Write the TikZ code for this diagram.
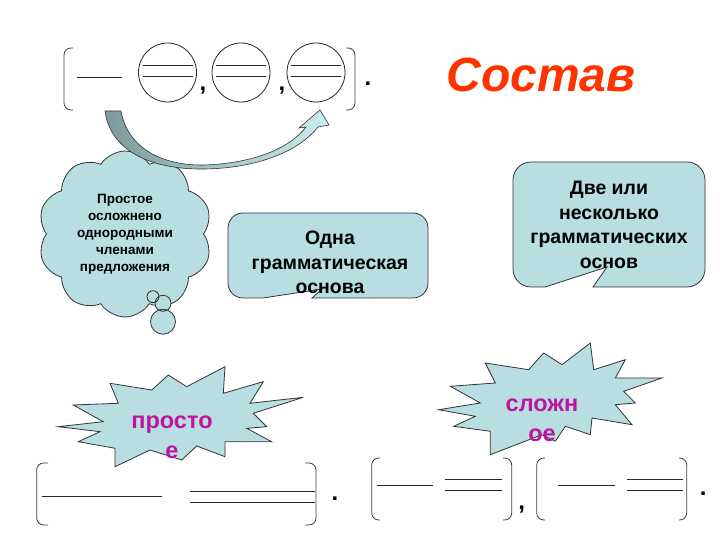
\documentclass[tikz,border=0pt]{standalone}
\usepackage{fontspec}
\setmainfont{Liberation Sans}
\usepackage{tikz}
\usetikzlibrary{shapes.symbols}
\definecolor{paleblue}{RGB}{185,222,226}
\definecolor{titlered}{RGB}{255,51,0}
\definecolor{starpink}{RGB}{190,20,160}
\definecolor{arrowdark}{RGB}{125,155,155}
\definecolor{arrowlight}{RGB}{205,236,236}
\tikzstyle{outline} = [draw=black!80, line width=0.8pt]
\tikzstyle{bubble} = [outline, fill=paleblue]
\tikzstyle{bracket} = [draw=black!75, line width=0.8pt, rounded corners=7pt]
\tikzstyle{stroke} = [draw=black!85, line width=0.8pt]
\tikzstyle{punct} = [inner sep=0pt, font=\fontsize{24}{24}\selectfont\bfseries]
\tikzstyle{saytext} = [align=center, font=\fontsize{19.5}{24.5}\selectfont\bfseries]
\tikzstyle{startext} = [align=center, text=starpink, font=\fontsize{23.5}{30}\selectfont\bfseries]

\begin{document}
\begin{tikzpicture}[x=1pt, y=1pt]
    \useasboundingbox (0,0) rectangle (720,540);
    % We start with the scheme of the sentence at the top
    \draw [bracket] (73,492) -| (64,461) |- (73,430);
    \draw [stroke] (77,463) -- (122,463);
    \foreach \cx in {167.5,241,316} {
        \draw [stroke] (\cx,467.5) ellipse [x radius=29, y radius=29.5];
        \draw [stroke] (\cx-25,475) -- (\cx+25,475);
        \draw [stroke] (\cx-25,463.3) -- (\cx+25,463.3);
    }
    \node [punct] (comma1) at (203,449) {,};
    \node [punct] (comma2) at (282,449) {,};
    \draw [bracket] (346,492) -| (355,461) |- (346,430);
    \node [punct] (dot1) at (368,456) {.};
    \node [font=\fontsize{48}{48}\selectfont\bfseries\itshape, text=titlered] (title) at (541,465) {Состав};
    % The cloud with its little bubbles
    \node [cloud, bubble, cloud puffs=10, cloud puff arc=115, minimum width=174, minimum height=166,
        align=center, font=\fontsize{13.5}{17}\selectfont\bfseries] (cloudnote) at (125,306)
        {Простое\\осложнено\\однородными\\членами\\предложения};
    \fill [paleblue] (153,243.3) circle (6) (163,236.7) circle (8) (163,218.3) circle (12.5);
    \draw [outline] (153,243.3) circle (6) (163,236.7) circle (8) (163,218.3) circle (12.5);
    % The curved block arrow over the cloud
    \path [left color=arrowdark, right color=arrowlight, draw=black!80, line width=0.6pt]
        (105,429) .. controls (110,390) and (150,370) .. (205,371)
        .. controls (260,372) and (300,390) .. (318,413) -- (329,415) -- (320,430) -- (299,412) -- (306,413)
        .. controls (290,392) and (255,377) .. (205,375)
        .. controls (165,374) and (128,390) .. (121,429) -- cycle;
    % The two callouts
    \draw [bubble] (312,242) -- (413,242) arc [start angle=-90, end angle=0, radius=15]
        -- (428,312) arc [start angle=0, end angle=90, radius=15]
        -- (243,327) arc [start angle=90, end angle=180, radius=15]
        -- (228,257) arc [start angle=180, end angle=270, radius=15]
        -- (263,242) -- (322,251) -- cycle;
    \node [saytext] (onebase) at (330,277.5) {Одна\\грамматическая\\основа};
    \draw [bubble] (593,253) -- (687,253) arc [start angle=-90, end angle=0, radius=18]
        -- (705,360) arc [start angle=0, end angle=90, radius=18]
        -- (531,378) arc [start angle=90, end angle=180, radius=18]
        -- (513,271) arc [start angle=180, end angle=270, radius=18]
        -- (545,253) -- (607,273) -- cycle;
    \node [saytext] (manybase) at (609,315) {Две или\\несколько\\грамматических\\основ};
    % The two stars
    \draw [bubble] (58.3,113.3) -- (103.3,118.3) -- (73.3,135) -- (118.3,136.7) -- (110,156.7)
        -- (151.7,150) -- (168.3,165) -- (186.7,153.3) -- (225,173.3) -- (223.3,146.7)
        -- (263.3,158.3) -- (250,136.7) -- (303.3,142.7) -- (253.3,126.7) -- (266.7,113.3)
        -- (246.7,111.7) -- (271.7,98.3) -- (225,98.3) -- (225,83.3) -- (196.7,94)
        -- (181.7,80) -- (150,90) -- (115,73.3) -- (115,91.7) -- (78.3,98.3) -- (100,108.3) -- cycle;
    \node [startext] (simple) at (172,103) {просто\\е};
    \draw [bubble] (438.7,130.3) -- (480.3,137) -- (450.3,153.7) -- (495.3,157) -- (485.3,177)
        -- (528.7,170.3) -- (543.7,187) -- (562,175.3) -- (590.3,197) -- (593.7,170.3)
        -- (625.3,180.3) -- (615.3,162) -- (662,162) -- (623.7,148.7) -- (635.3,137)
        -- (615.3,135.3) -- (632,115.3) -- (592,122) -- (590.3,105.3) -- (565.3,113.7)
        -- (555.3,98.7) -- (542,105.3) -- (490.3,85.3) -- (490.3,108.7) -- (453.7,113.7) -- (475.3,123.7) -- cycle;
    \node [startext] (complex) at (542,120) {сложн\\ое};
    % The schemes at the bottom
    \draw [bracket] (48,77) -| (36.7,46) |- (48,15);
    \draw [stroke] (41.7,43.3) -- (161.7,43.3);
    \draw [stroke] (190,48.3) -- (315,48.3);
    \draw [stroke] (190,37.3) -- (315,37.3);
    \draw [bracket] (305,77) -| (316,46) |- (305,15);
    \node [punct] (dot2) at (335,41) {.};
    \draw [bracket] (380,82) -| (371.7,51) |- (380,20);
    \draw [stroke] (376.7,55) -- (433.3,55);
    \draw [stroke] (445,60.7) -- (501.7,60.7);
    \draw [stroke] (445,50) -- (501.7,50);
    \draw [bracket] (503,82) -| (511.7,51) |- (503,20);
    \node [punct] (comma3) at (521.7,30) {,};
    \draw [bracket] (545,82) -| (536.7,51) |- (545,20);
    \draw [stroke] (558.3,55) -- (615,55);
    \draw [stroke] (626.7,60.7) -- (683.3,60.7);
    \draw [stroke] (626.7,50) -- (683.3,50);
    \draw [bracket] (679,82) -| (686.7,51) |- (679,20);
    \node [punct] (dot3) at (703.3,46) {.};
\end{tikzpicture}
\end{document}
